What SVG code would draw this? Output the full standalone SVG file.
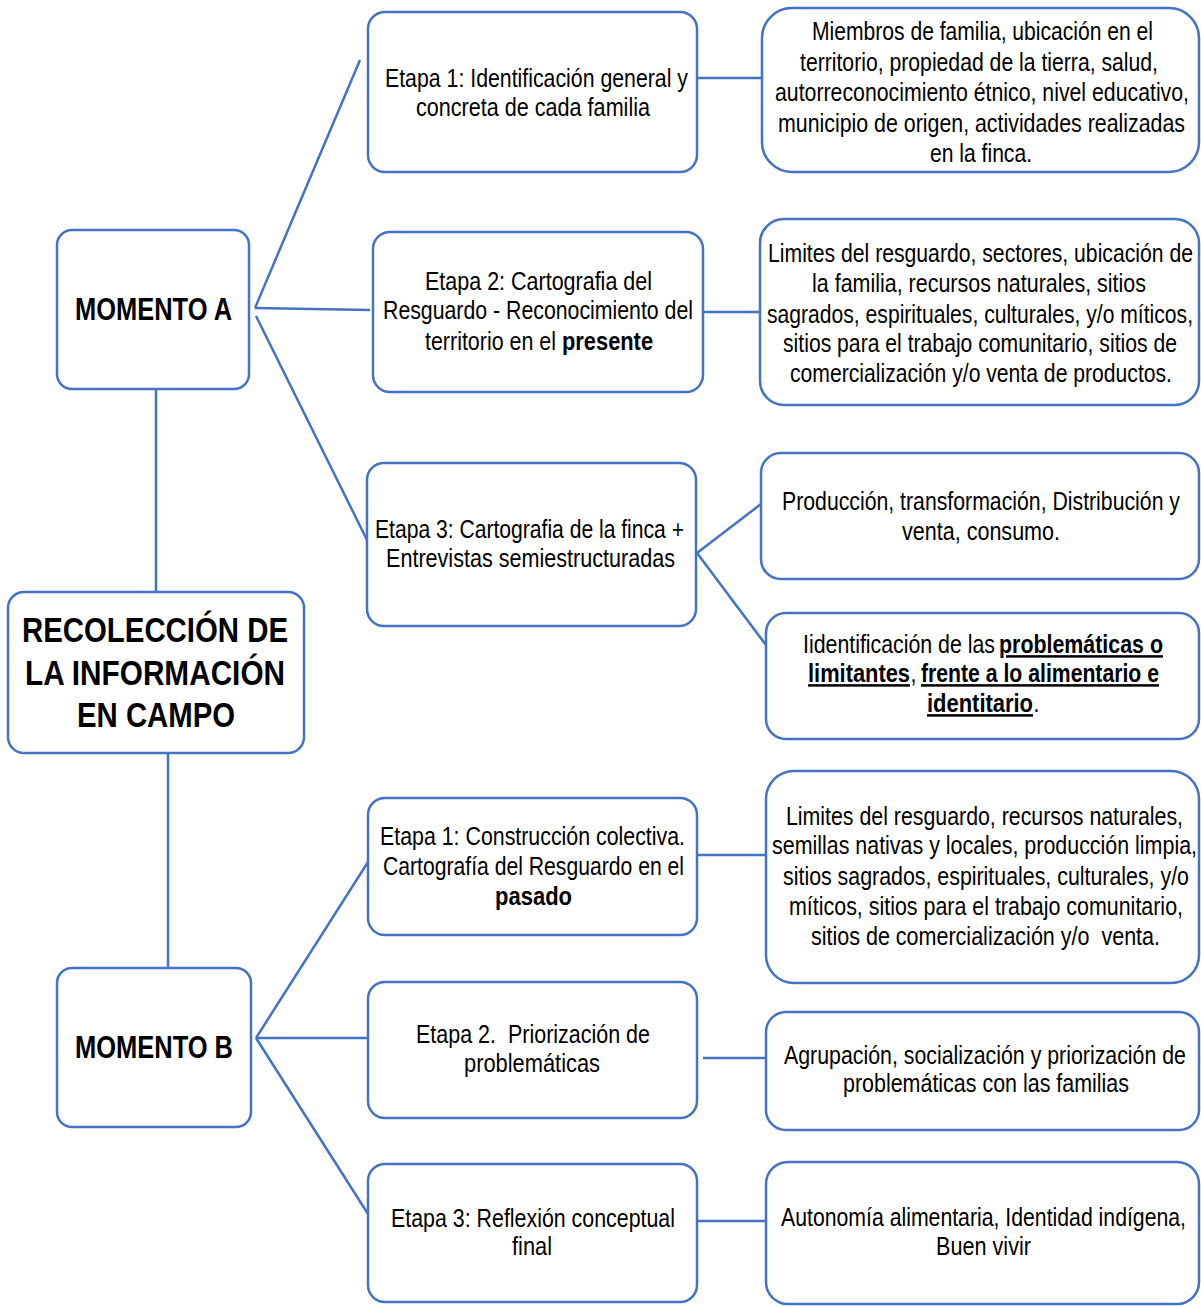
<svg xmlns="http://www.w3.org/2000/svg" width="1201" height="1307" viewBox="0 0 1201 1307">
<style>
.box{fill:#fff;stroke:#4472C4;stroke-width:2.5}
.ln{stroke:#4472C4;stroke-width:2.5;fill:none}
text{font-family:"Liberation Sans",Arial,sans-serif;fill:#000}
.t{font-size:25px}
.mid{text-anchor:middle}
.m{font-size:32px;font-weight:bold;text-anchor:middle}
.c{font-size:35px;font-weight:bold;text-anchor:middle}
.b{font-weight:bold}
.u{font-weight:bold;text-decoration:underline}
</style>
<rect width="1201" height="1307" fill="#fff"/>
<g id="connectors">
<line class="ln" x1="156" y1="389" x2="156" y2="592"/>
<line class="ln" x1="168" y1="753" x2="168" y2="968"/>
<line class="ln" x1="255" y1="308" x2="360" y2="60"/>
<line class="ln" x1="255" y1="308" x2="370" y2="310"/>
<line class="ln" x1="256" y1="316" x2="368" y2="542"/>
<line class="ln" x1="697" y1="78" x2="762" y2="78"/>
<line class="ln" x1="703" y1="312" x2="760" y2="312"/>
<line class="ln" x1="697" y1="553" x2="761" y2="504"/>
<line class="ln" x1="697" y1="553" x2="766" y2="645"/>
<line class="ln" x1="256" y1="1038" x2="368" y2="862"/>
<line class="ln" x1="256" y1="1038" x2="368" y2="1038"/>
<line class="ln" x1="256" y1="1038" x2="368" y2="1214"/>
<line class="ln" x1="697" y1="855" x2="766" y2="855"/>
<line class="ln" x1="703" y1="1058" x2="766" y2="1058"/>
<line class="ln" x1="697" y1="1221" x2="766" y2="1221"/>
</g>
<g id="central">
<rect class="box" x="8" y="592" width="296" height="161" rx="16"/>
<text class="c" transform="translate(155 642) scale(0.82 1)" textLength="324.4" lengthAdjust="spacingAndGlyphs">RECOLECCIÓN DE</text>
<text class="c" transform="translate(155 685) scale(0.82 1)" textLength="317.1" lengthAdjust="spacingAndGlyphs">LA INFORMACIÓN</text>
<text class="c" transform="translate(156 727) scale(0.82 1)" textLength="192.7" lengthAdjust="spacingAndGlyphs">EN CAMPO</text>
</g>
<g id="momentoA">
<rect class="box" x="57" y="230" width="192" height="159" rx="15"/>
<text class="m" transform="translate(153.5 320) scale(0.82 1)" textLength="191.5" lengthAdjust="spacingAndGlyphs">MOMENTO A</text>
</g>
<g id="momentoB">
<rect class="box" x="57" y="968" width="194" height="159" rx="15"/>
<text class="m" transform="translate(154 1058) scale(0.82 1)" textLength="192.7" lengthAdjust="spacingAndGlyphs">MOMENTO B</text>
</g>
<g id="a-etapa1">
<rect class="box" x="368" y="12" width="329" height="160" rx="17"/>
<text class="t mid" transform="translate(536.5 87) scale(0.85 1)" textLength="356.5" lengthAdjust="spacingAndGlyphs">Etapa 1: Identificación general y</text>
<text class="t mid" transform="translate(533 116) scale(0.85 1)" textLength="275.3" lengthAdjust="spacingAndGlyphs">concreta de cada familia</text>
</g>
<g id="a-etapa2">
<rect class="box" x="373" y="232" width="330" height="160" rx="17"/>
<text class="t mid" transform="translate(538.5 290) scale(0.85 1)" textLength="267.1" lengthAdjust="spacingAndGlyphs">Etapa 2: Cartografia del</text>
<text class="t mid" transform="translate(538 319) scale(0.85 1)" textLength="364.7" lengthAdjust="spacingAndGlyphs">Resguardo - Reconocimiento del</text>
<text class="t" transform="translate(425 350) scale(0.85 1)" textLength="154.1" lengthAdjust="spacingAndGlyphs">territorio en el</text>
<text class="t b" transform="translate(562 350) scale(0.85 1)" textLength="107.1" lengthAdjust="spacingAndGlyphs">presente</text>
</g>
<g id="a-etapa3">
<rect class="box" x="367" y="463" width="329" height="163" rx="17"/>
<text class="t mid" transform="translate(529.5 538) scale(0.85 1)" textLength="363.5" lengthAdjust="spacingAndGlyphs">Etapa 3: Cartografia de la finca +</text>
<text class="t mid" transform="translate(530.5 567) scale(0.85 1)" textLength="340" lengthAdjust="spacingAndGlyphs">Entrevistas semiestructuradas</text>
</g>
<g id="a-res1">
<rect class="box" x="762" y="8" width="437" height="164" rx="30"/>
<text class="t mid" transform="translate(982.5 40) scale(0.85 1)" textLength="401.2" lengthAdjust="spacingAndGlyphs">Miembros de familia, ubicación en el</text>
<text class="t mid" transform="translate(979 71) scale(0.85 1)" textLength="421.2" lengthAdjust="spacingAndGlyphs">territorio, propiedad de la tierra, salud,</text>
<text class="t mid" transform="translate(982 101) scale(0.85 1)" textLength="487.1" lengthAdjust="spacingAndGlyphs">autorreconocimiento étnico, nivel educativo,</text>
<text class="t mid" transform="translate(981.5 132) scale(0.85 1)" textLength="478.8" lengthAdjust="spacingAndGlyphs">municipio de origen, actividades realizadas</text>
<text class="t mid" transform="translate(981 162) scale(0.85 1)" textLength="120" lengthAdjust="spacingAndGlyphs">en la finca.</text>
</g>
<g id="a-res2">
<rect class="box" x="760" y="219" width="439" height="186" rx="24"/>
<text class="t mid" transform="translate(980.5 262) scale(0.85 1)" textLength="500" lengthAdjust="spacingAndGlyphs">Limites del resguardo, sectores, ubicación de</text>
<text class="t mid" transform="translate(979 292) scale(0.85 1)" textLength="392.9" lengthAdjust="spacingAndGlyphs">la familia, recursos naturales, sitios</text>
<text class="t mid" transform="translate(980 323) scale(0.85 1)" textLength="501.2" lengthAdjust="spacingAndGlyphs">sagrados, espirituales, culturales, y/o míticos,</text>
<text class="t mid" transform="translate(980 352) scale(0.85 1)" textLength="463.5" lengthAdjust="spacingAndGlyphs">sitios para el trabajo comunitario, sitios de</text>
<text class="t mid" transform="translate(981 382) scale(0.85 1)" textLength="449.4" lengthAdjust="spacingAndGlyphs">comercialización y/o venta de productos.</text>
</g>
<g id="a-res3">
<rect class="box" x="761" y="453" width="438" height="126" rx="20"/>
<text class="t mid" transform="translate(981 510) scale(0.85 1)" textLength="468.2" lengthAdjust="spacingAndGlyphs">Producción, transformación, Distribución y</text>
<text class="t mid" transform="translate(981 540) scale(0.85 1)" textLength="185.9" lengthAdjust="spacingAndGlyphs">venta, consumo.</text>
</g>
<g id="a-res4">
<rect class="box" x="766" y="613" width="433" height="126" rx="20"/>
<text class="t" transform="translate(803 653) scale(0.85 1)" textLength="225.9" lengthAdjust="spacingAndGlyphs">Iidentificación de las</text>
<text class="t u" transform="translate(999 653) scale(0.85 1)" textLength="192.9" lengthAdjust="spacingAndGlyphs">problemáticas o</text>
<text class="t u" transform="translate(808 682) scale(0.85 1)" textLength="120" lengthAdjust="spacingAndGlyphs">limitantes</text>
<text class="t" transform="translate(910.5 682) scale(0.85 1)">,</text>
<text class="t u" transform="translate(921 682) scale(0.85 1)" textLength="280" lengthAdjust="spacingAndGlyphs">frente a lo alimentario e</text>
<text class="t u" transform="translate(927 712) scale(0.85 1)" textLength="124.7" lengthAdjust="spacingAndGlyphs">identitario</text>
<text class="t" transform="translate(1033.5 712) scale(0.85 1)">.</text>
</g>
<g id="b-etapa1">
<rect class="box" x="368" y="798" width="329" height="137" rx="17"/>
<text class="t mid" transform="translate(532.5 845) scale(0.85 1)" textLength="358.8" lengthAdjust="spacingAndGlyphs">Etapa 1: Construcción colectiva.</text>
<text class="t mid" transform="translate(533.5 875) scale(0.85 1)" textLength="354.1" lengthAdjust="spacingAndGlyphs">Cartografía del Resguardo en el</text>
<text class="t b mid" transform="translate(533.5 905) scale(0.85 1)" textLength="90.6" lengthAdjust="spacingAndGlyphs">pasado</text>
</g>
<g id="b-etapa2">
<rect class="box" x="368" y="982" width="329" height="136" rx="17"/>
<text class="t mid" transform="translate(533 1043) scale(0.85 1)" textLength="275.3" lengthAdjust="spacingAndGlyphs" xml:space="preserve">Etapa 2.  Priorización de</text>
<text class="t mid" transform="translate(532 1072) scale(0.85 1)" textLength="160" lengthAdjust="spacingAndGlyphs">problemáticas</text>
</g>
<g id="b-etapa3">
<rect class="box" x="368" y="1164" width="329" height="138" rx="17"/>
<text class="t mid" transform="translate(533 1227) scale(0.85 1)" textLength="334.1" lengthAdjust="spacingAndGlyphs">Etapa 3: Reflexión conceptual</text>
<text class="t mid" transform="translate(532 1255) scale(0.85 1)" textLength="47.1" lengthAdjust="spacingAndGlyphs">final</text>
</g>
<g id="b-res1">
<rect class="box" x="766" y="771" width="433" height="212" rx="28"/>
<text class="t mid" transform="translate(984.5 825) scale(0.85 1)" textLength="467.1" lengthAdjust="spacingAndGlyphs">Limites del resguardo, recursos naturales,</text>
<text class="t mid" transform="translate(984.5 854) scale(0.85 1)" textLength="500" lengthAdjust="spacingAndGlyphs">semillas nativas y locales, producción limpia,</text>
<text class="t mid" transform="translate(986 885) scale(0.85 1)" textLength="477.6" lengthAdjust="spacingAndGlyphs">sitios sagrados, espirituales, culturales, y/o</text>
<text class="t mid" transform="translate(986 915) scale(0.85 1)" textLength="463.5" lengthAdjust="spacingAndGlyphs">míticos, sitios para el trabajo comunitario,</text>
<text class="t mid" transform="translate(985.5 945) scale(0.85 1)" textLength="410.6" lengthAdjust="spacingAndGlyphs" xml:space="preserve">sitios de comercialización y/o  venta.</text>
</g>
<g id="b-res2">
<rect class="box" x="766" y="1012" width="433" height="118" rx="20"/>
<text class="t mid" transform="translate(985 1064) scale(0.85 1)" textLength="472.9" lengthAdjust="spacingAndGlyphs">Agrupación, socialización y priorización de</text>
<text class="t mid" transform="translate(986 1092) scale(0.85 1)" textLength="336.5" lengthAdjust="spacingAndGlyphs">problemáticas con las familias</text>
</g>
<g id="b-res3">
<rect class="box" x="766" y="1162" width="433" height="142" rx="22"/>
<text class="t mid" transform="translate(983.5 1226) scale(0.85 1)" textLength="476.5" lengthAdjust="spacingAndGlyphs">Autonomía alimentaria, Identidad indígena,</text>
<text class="t mid" transform="translate(983.5 1255) scale(0.85 1)" textLength="111.8" lengthAdjust="spacingAndGlyphs">Buen vivir</text>
</g>
</svg>
